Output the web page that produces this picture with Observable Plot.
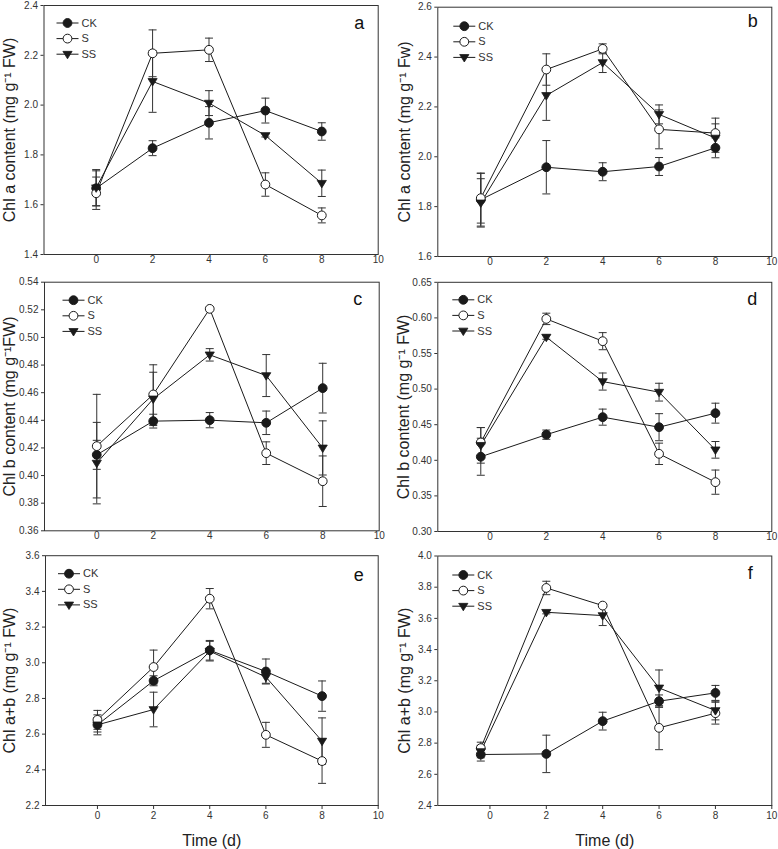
<!DOCTYPE html>
<html><head><meta charset="utf-8">
<script src="https://cdn.jsdelivr.net/npm/d3@7"></script>
<script src="https://cdn.jsdelivr.net/npm/@observablehq/plot@0.6"></script>
<style>
body{margin:0;background:#fff;}
#wrap{position:relative;width:778px;height:849px;overflow:hidden;background:#fff;}
#wrap svg{position:absolute;left:0;top:0;}
</style></head><body><div id="wrap"></div>
<script>
const days = [0, 2, 4, 6, 8];
const seriesNames = ["CK", "S", "SS"];
const xTicks = [0, 2, 4, 6, 8, 10];

// Panel a – Chl a
const aCK = [1.666, 1.827, 1.929, 1.978, 1.894];
const aCKerr = [0.070, 0.030, 0.065, 0.050, 0.035];
const aS = [1.646, 2.208, 2.222, 1.681, 1.557];
const aSerr = [0.065, 0.094, 0.047, 0.047, 0.030];
const aSS = [1.668, 2.095, 2.008, 1.878, 1.686];
const aSSerr = [0.073, 0.124, 0.050, 0.006, 0.053];
const aTicks = [1.4, 1.6, 1.8, 2.0, 2.2, 2.4];

// Panel b – Chl a
const bCK = [1.828, 1.958, 1.940, 1.961, 2.036];
const bCKerr = [0.106, 0.107, 0.036, 0.036, 0.040];
const bS = [1.834, 2.350, 2.433, 2.110, 2.095];
const bSerr = [0.100, 0.063, 0.020, 0.078, 0.060];
const bSS = [1.815, 2.246, 2.378, 2.170, 2.075];
const bSSerr = [0.097, 0.100, 0.040, 0.038, 0.057];
const bTicks = [1.6, 1.8, 2.0, 2.2, 2.4, 2.6];

// Panel c – Chl b
const cCK = [0.415, 0.4394, 0.4401, 0.4382, 0.4633];
const cCKerr = [0.0105, 0.005, 0.0055, 0.0085, 0.018];
const cS = [0.4213, 0.4587, 0.5207, 0.4162, 0.3959];
const cSerr = [0.0375, 0.0215, 0.001, 0.0082, 0.0183];
const cSS = [0.409, 0.4555, 0.4874, 0.4724, 0.420];
const cSSerr = [0.0295, 0.0193, 0.0045, 0.0152, 0.0196];
const cTicks = [0.36, 0.38, 0.40, 0.42, 0.44, 0.46, 0.48, 0.50, 0.52, 0.54];

// Panel d – Chl b
const dCK = [0.405, 0.436, 0.4606, 0.4465, 0.4662];
const dCKerr = [0.026, 0.0065, 0.0113, 0.019, 0.014];
const dS = [0.425, 0.5986, 0.5673, 0.4091, 0.3693];
const dSerr = [0.021, 0.008, 0.012, 0.015, 0.017];
const dSS = [0.421, 0.573, 0.5106, 0.4957, 0.4147];
const dSSerr = [0.025, 0.003, 0.012, 0.0125, 0.0117];
const dTicks = [0.30, 0.35, 0.40, 0.45, 0.50, 0.55, 0.60, 0.65];

// Panel e – Chl a+b
const eCK = [2.652, 2.899, 3.070, 2.951, 2.813];
const eCKerr = [0.040, 0.028, 0.055, 0.070, 0.085];
const eS = [2.680, 2.976, 3.359, 2.596, 2.449];
const eSerr = [0.053, 0.095, 0.057, 0.070, 0.125];
const eSS = [2.652, 2.738, 3.065, 2.920, 2.561];
const eSSerr = [0.056, 0.097, 0.055, 0.035, 0.130];
const eTicks = [2.2, 2.4, 2.6, 2.8, 3.0, 3.2, 3.4, 3.6];

// Panel f – Chl a+b
const fCK = [2.727, 2.731, 2.941, 3.069, 3.122];
const fCKerr = [0.042, 0.120, 0.057, 0.040, 0.048];
const fS = [2.768, 3.795, 3.682, 2.898, 2.992];
const fSerr = [0.038, 0.043, 0.010, 0.140, 0.070];
const fSS = [2.746, 3.639, 3.618, 3.154, 3.009];
const fSSerr = [0.040, 0.010, 0.064, 0.115, 0.060];
const fTicks = [2.4, 2.6, 2.8, 3.0, 3.2, 3.4, 3.6, 3.8, 4.0];

const panels = [
  {id: "a", col: 0, row: 0, ylabel: "Chl a content (mg g\u207B\u00B9 FW)", ticks: aTicks, dec: 1,
   vals: [aCK, aS, aSS], errs: [aCKerr, aSerr, aSSerr], frame: [43.5, 377.7, 5, 254], lx: 23.5, ly: 17.5, ldx: -14, ldy: 18, yl: -34},
  {id: "b", col: 1, row: 0, ylabel: "Chl a content (mg g\u207B\u00B9 Fw)", ticks: bTicks, dec: 1,
   vals: [bCK, bS, bSS], errs: [bCKerr, bSerr, bSSerr], frame: [437.3, 771.3, 6.7, 256], lx: 26.5, ly: 19, ldx: -14, ldy: 14, yl: -33},
  {id: "c", col: 0, row: 1, ylabel: "Chl b content (mg g\u207B\u00B9FW)", ticks: cTicks, dec: 2,
   vals: [cCK, cS, cSS], errs: [cCKerr, cSerr, cSSerr], frame: [44, 378.7, 281.7, 530.3], lx: 29, ly: 18, ldx: -17, ldy: 17.5, yl: -34.5},
  {id: "d", col: 1, row: 1, ylabel: "Chl b content (mg g\u207B\u00B9 FW)", ticks: dTicks, dec: 2,
   vals: [dCK, dS, dSS], errs: [dCKerr, dSerr, dSSerr], frame: [437.3, 771.3, 281.8, 531], lx: 25.5, ly: 17.5, ldx: -14.5, ldy: 16.5, yl: -34},
  {id: "e", col: 0, row: 2, ylabel: "Chl a+b (mg g\u207B\u00B9 FW)", ticks: eTicks, dec: 1,
   vals: [eCK, eS, eSS], errs: [eCKerr, eSerr, eSSerr], frame: [45, 377.7, 555.2, 805], lx: 23.5, ly: 18, ldx: -14.5, ldy: 20, yl: -35.5},
  {id: "f", col: 1, row: 2, ylabel: "Chl a+b (mg g\u207B\u00B9 FW)", ticks: fTicks, dec: 1,
   vals: [fCK, fS, fSS], errs: [fCKerr, fSerr, fSSerr], frame: [437.3, 771.3, 555.5, 805], lx: 25.5, ly: 19, ldx: -19, ldy: 17, yl: -33}
];

// The right-hand column of the original figure has its x = 0 position
// nudged to the left (non-uniform spacing between 0 and 2); reproduce it
// with a scale transform rather than by moving marks.
const X0R = -0.325;
const rightColumnX = v => v >= 2 ? v
  : v >= 0 ? X0R + v * (2 - X0R) / 2
  : -1.85 + (v + 1.85) * (X0R + 1.85) / 1.85;

// custom symbols
const hline = {draw(ctx, size) { const w = Math.sqrt(size / Math.PI); ctx.moveTo(-w, 0); ctx.lineTo(w, 0); }};
const triDown = {draw(ctx, size) { const r = Math.sqrt(size / Math.PI); ctx.moveTo(-r, -0.62 * r); ctx.lineTo(r, -0.62 * r); ctx.lineTo(0, 1.0 * r); ctx.closePath(); }};

const INK = "#1a1a1a", AX = "#333";
const markerStyle = {
  CK: {symbol: "circle", r: 4.4, fill: INK, stroke: INK, strokeWidth: 1},
  S: {symbol: "circle", r: 4.4, fill: "white", stroke: INK, strokeWidth: 1},
  SS: {symbol: triDown, r: 4.6, fill: INK, stroke: INK, strokeWidth: 0.8}
};

const W = 778, H = 849;
const wrap = document.getElementById("wrap");

for (const p of panels) {
  const rows = [];
  seriesNames.forEach((s, k) => days.forEach((d, i) => rows.push({series: s, day: d, v: p.vals[k][i], e: p.errs[k][i]})));
  const [L, R, T, B] = p.frame;
  const xOpt = p.col === 0
    ? {domain: [-1.85, 10]}
    : {domain: [-1.85, 10], transform: rightColumnX};

  const legendMarks = [];
  seriesNames.forEach((s, i) => {
    const dy = p.ly + i * 15.6;
    legendMarks.push(Plot.dot([s], {frameAnchor: "top-left", dx: p.lx, dy, symbol: hline, r: 11, stroke: INK, strokeWidth: 1, fill: "none"}));
    legendMarks.push(Plot.dot([s], {frameAnchor: "top-left", dx: p.lx, dy, ...markerStyle[s]}));
    legendMarks.push(Plot.text([s], {frameAnchor: "top-left", dx: p.lx + 14, dy, text: d => d, textAnchor: "start", lineAnchor: "middle", fontSize: 11, fill: AX}));
  });

  const marks = [
    Plot.frame({stroke: AX, strokeWidth: 1}),
    Plot.axisY({ticks: p.ticks, tickFormat: d => d.toFixed(p.dec), tickSize: 3, tickPadding: 3, fontSize: 10, label: null}),
    Plot.axisX({ticks: xTicks, tickFormat: d => String(d), tickSize: p.row === 2 ? 4 : 0, tickPadding: p.row === 2 ? 2 : 1.5, fontSize: 10, label: null}),
    Plot.ruleX(rows, {x: "day", y1: d => d.v - d.e, y2: d => d.v + d.e, stroke: AX, strokeWidth: 1}),
    Plot.dot(rows, {x: "day", y: d => d.v + d.e, symbol: hline, r: 4, stroke: AX, strokeWidth: 1, fill: "none"}),
    Plot.dot(rows, {x: "day", y: d => d.v - d.e, symbol: hline, r: 4, stroke: AX, strokeWidth: 1, fill: "none"}),
    Plot.line(rows, {x: "day", y: "v", z: "series", stroke: INK, strokeWidth: 1}),
    ...seriesNames.map(s => Plot.dot(rows.filter(r => r.series === s), {x: "day", y: "v", ...markerStyle[s]})),
    ...legendMarks,
    Plot.text([p.id], {frameAnchor: "top-right", dx: p.ldx, dy: p.ldy, text: d => d, textAnchor: "end", lineAnchor: "middle", fontSize: 18, fill: "#111"}),
    Plot.text([p.ylabel], {frameAnchor: "left", dx: p.yl, rotate: -90, text: d => d, textAnchor: "middle", lineAnchor: "middle", fontSize: 16, fill: "#222"})
  ];
  if (p.row === 2) {
    marks.push(Plot.text(["Time (d)"], {frameAnchor: "bottom", dy: 35, text: d => d, textAnchor: "middle", lineAnchor: "middle", fontSize: 16, fill: "#222"}));
  }

  const svg = Plot.plot({
    width: W, height: H,
    marginLeft: L, marginRight: W - R, marginTop: T, marginBottom: H - B,
    x: xOpt,
    y: {domain: [p.ticks[0], p.ticks[p.ticks.length - 1]]},
    style: {background: "transparent", color: AX, fontFamily: "'Liberation Sans', Arial, sans-serif", fontSize: "10px", maxWidth: "none"},
    marks
  });
  wrap.appendChild(svg);
}
</script></body></html>
